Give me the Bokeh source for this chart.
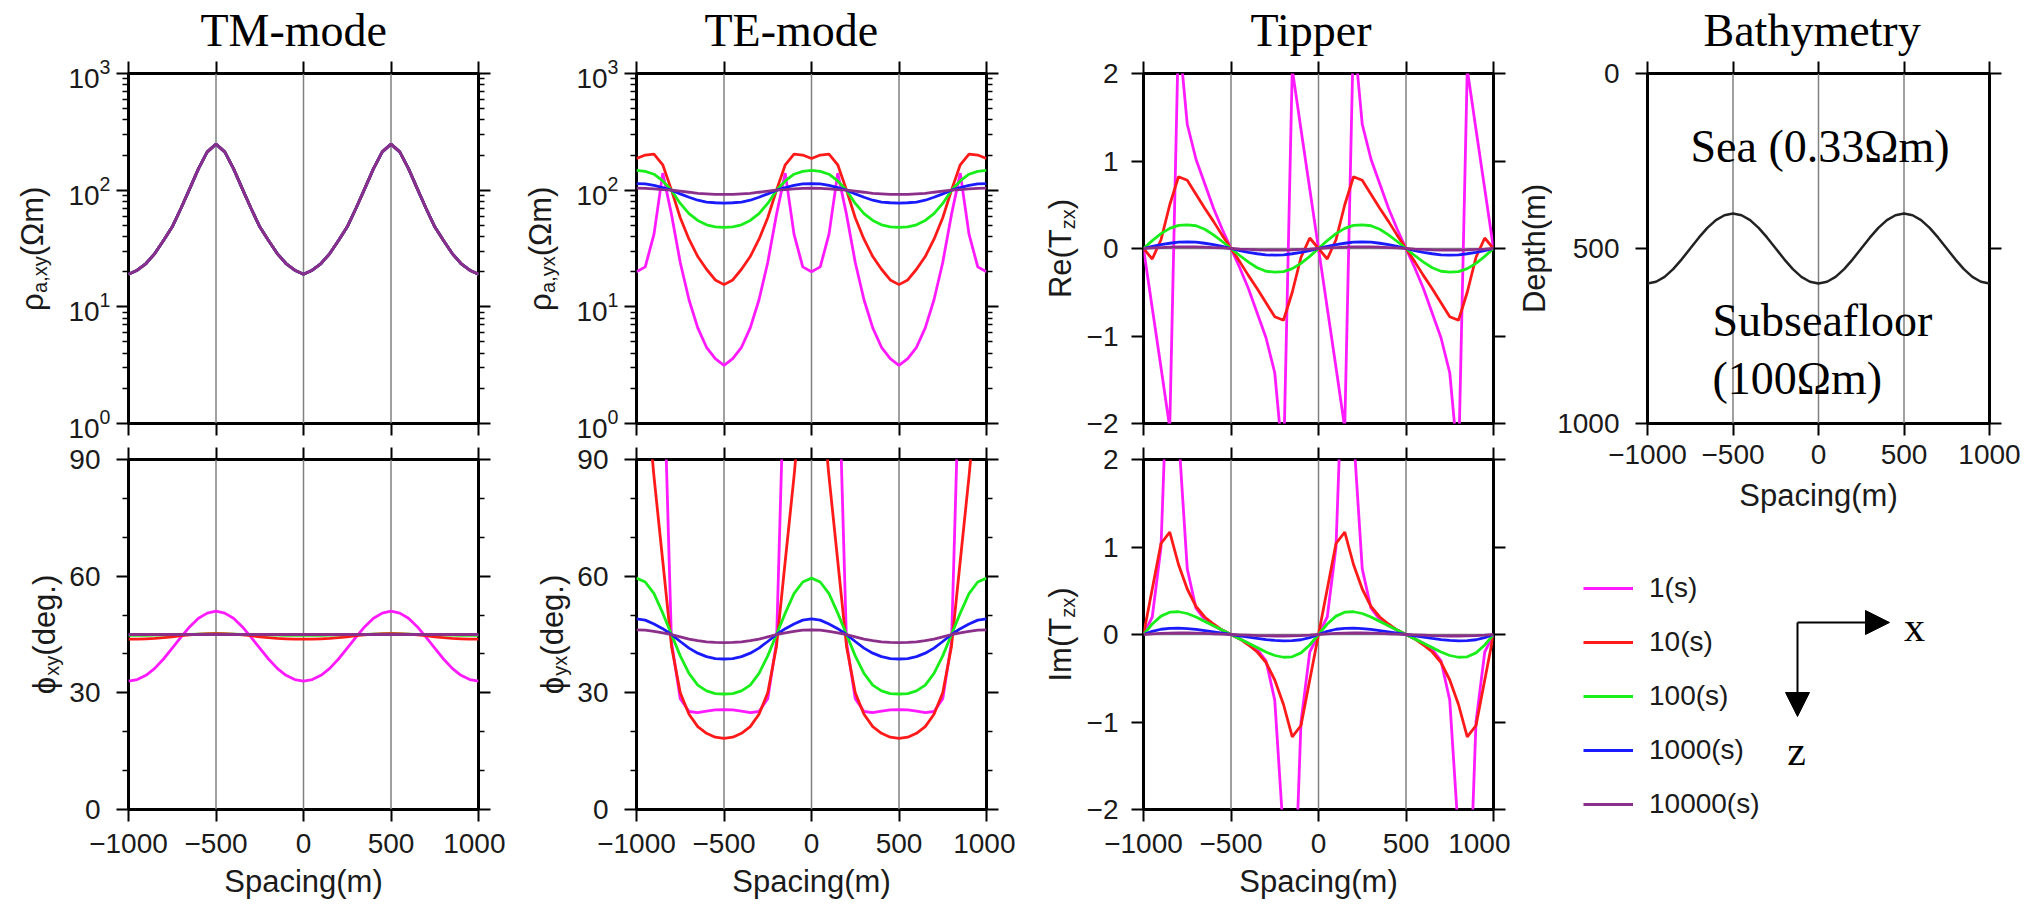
import math
from bokeh.plotting import figure
from bokeh.models import (FixedTicker, LinearAxis, LogAxis, Range1d, Span, Label,
                          Legend, LegendItem, Arrow, NormalHead)
from bokeh.layouts import row, column
from bokeh.embed import file_html
from bokeh.resources import INLINE

SANS = "Liberation Sans"
SERIF = "Liberation Serif"
TXT = "#1a1a1a"
BASE_SHIFT = 0.27   # empirical offset of the rendered alphabetic baseline (in em)

# ---------------- data ----------------
spacing = [-1000, -950, -900, -850, -800, -750, -700, -650, -600, -550, -500, -450, -400, -350,
           -300, -250, -200, -150, -100, -50, 0, 50, 100, 150, 200, 250, 300, 350, 400, 450,
           500, 550, 600, 650, 700, 750, 800, 850, 900, 950, 1000]

period_labels = ["1(s)", "10(s)", "100(s)", "1000(s)", "10000(s)"]
period_colors = ["#ff1aff", "#ff1a1a", "#1aee1a", "#1a1aff", "#8b2f8b"]

# TM-mode apparent resistivity (all periods coincide)
tm_rho = [19.0, 20.6, 23.5, 28.6, 37.0, 48.5, 70.0, 103.0, 153.0, 213.0, 248.0, 213.0, 153.0, 103.0,
          70.0, 48.5, 37.0, 28.6, 23.5, 20.6, 19.0, 20.6, 23.5, 28.6, 37.0, 48.5, 70.0, 103.0, 153.0,
          213.0, 248.0, 213.0, 153.0, 103.0, 70.0, 48.5, 37.0, 28.6, 23.5, 20.6, 19.0]

tm_phase_1s = [33.0, 33.4, 34.5, 36.3, 38.7, 41.5, 44.3, 47.0, 49.2, 50.5, 51.0, 50.5, 49.2, 47.0, 44.3,
               41.5, 38.7, 36.3, 34.5, 33.4, 33.0, 33.4, 34.5, 36.3, 38.7, 41.5, 44.3, 47.0, 49.2, 50.5,
               51.0, 50.5, 49.2, 47.0, 44.3, 41.5, 38.7, 36.3, 34.5, 33.4, 33.0]
tm_phase_10s = [43.8, 43.8, 43.9, 44.0, 44.2, 44.4, 44.7, 44.9, 45.1, 45.2, 45.3, 45.2, 45.1, 44.9, 44.7,
                44.4, 44.2, 44.0, 43.9, 43.8, 43.8, 43.8, 43.9, 44.0, 44.2, 44.4, 44.7, 44.9, 45.1, 45.2,
                45.3, 45.2, 45.1, 44.9, 44.7, 44.4, 44.2, 44.0, 43.9, 43.8, 43.8]
tm_phase_100s = [44.8, 44.8, 44.8, 44.85, 44.9, 44.95, 45.0, 45.05, 45.1, 45.1, 45.1, 45.1, 45.1, 45.05,
                 45.0, 44.95, 44.9, 44.85, 44.8, 44.8, 44.8, 44.8, 44.8, 44.85, 44.9, 44.95, 45.0, 45.05,
                 45.1, 45.1, 45.1, 45.1, 45.1, 45.05, 45.0, 44.95, 44.9, 44.85, 44.8, 44.8, 44.8]
tm_phase_1000s = [44.95, 44.95, 44.96, 44.97, 44.98, 45.0, 45.01, 45.02, 45.03, 45.04, 45.04, 45.04, 45.03,
                  45.02, 45.01, 45.0, 44.98, 44.97, 44.96, 44.95, 44.95, 44.95, 44.96, 44.97, 44.98, 45.0,
                  45.01, 45.02, 45.03, 45.04, 45.04, 45.04, 45.03, 45.02, 45.01, 45.0, 44.98, 44.97, 44.96,
                  44.95, 44.95]
tm_phase_10000s = [45.0, 45.0, 45.0, 45.0, 45.0, 45.0, 45.0, 45.0, 45.0, 45.0, 45.0, 45.0, 45.0, 45.0,
                   45.0, 45.0, 45.0, 45.0, 45.0, 45.0, 45.0, 45.0, 45.0, 45.0, 45.0, 45.0, 45.0, 45.0,
                   45.0, 45.0, 45.0, 45.0, 45.0, 45.0, 45.0, 45.0, 45.0, 45.0, 45.0, 45.0, 45.0]

te_rho_1s = [20.0, 22.0, 42.0, 140.0, 62.0, 24.0, 11.5, 6.6, 4.5, 3.6, 3.15, 3.6, 4.5, 6.6, 11.5, 24.0,
             62.0, 140.0, 42.0, 22.0, 20.0, 22.0, 42.0, 140.0, 62.0, 24.0, 11.5, 6.6, 4.5, 3.6, 3.15,
             3.6, 4.5, 6.6, 11.5, 24.0, 62.0, 140.0, 42.0, 22.0, 20.0]
te_rho_10s = [187, 200, 204, 165, 100, 58, 38, 27, 21, 17, 15.5, 17, 21, 27, 38, 58, 100, 165, 204, 200,
              187, 200, 204, 165, 100, 58, 38, 27, 21, 17, 15.5, 17, 21, 27, 38, 58, 100, 165, 204, 200, 187]
te_rho_100s = [148, 145, 137, 120, 100, 77, 63, 55, 50.5, 48.5, 48, 48.5, 50.5, 55, 63, 77, 100, 120, 137,
               145, 148, 145, 137, 120, 100, 77, 63, 55, 50.5, 48.5, 48, 48.5, 50.5, 55, 63, 77, 100, 120,
               137, 145, 148]
te_rho_1000s = [114, 113, 110, 105, 100, 93, 87, 82, 79, 78, 77.5, 78, 79, 82, 87, 93, 100, 105, 110, 113,
                114, 113, 110, 105, 100, 93, 87, 82, 79, 78, 77.5, 78, 79, 82, 87, 93, 100, 105, 110, 113, 114]
te_rho_10000s = [104, 103.5, 102.5, 101, 100, 98, 96, 94, 93, 92, 92, 92, 93, 94, 96, 98, 100, 101, 102.5,
                 103.5, 104, 103.5, 102.5, 101, 100, 98, 96, 94, 93, 92, 92, 92, 93, 94, 96, 98, 100, 101,
                 102.5, 103.5, 104]

te_phase_1s = [175, 170, 155, 122, 43, 28.5, 25.2, 24.9, 25.3, 25.6, 25.7, 25.6, 25.3, 24.9, 25.2, 28.5,
               43, 122, 155, 170, 175, 170, 155, 122, 43, 28.5, 25.2, 24.9, 25.3, 25.6, 25.7, 25.6, 25.3,
               24.9, 25.2, 28.5, 43, 122, 155, 170, 175]
te_phase_10s = [130, 110, 85.6, 63.9, 42, 30, 24.5, 21.3, 19.6, 18.6, 18.3, 18.6, 19.6, 21.3, 24.5, 30, 42,
                63.9, 85.6, 110, 130, 110, 85.6, 63.9, 42, 30, 24.5, 21.3, 19.6, 18.6, 18.3, 18.6, 19.6,
                21.3, 24.5, 30, 42, 63.9, 85.6, 110, 130]
te_phase_100s = [59.5, 58.5, 55.5, 50.5, 45, 39.5, 35, 32, 30.5, 29.8, 29.7, 29.8, 30.5, 32, 35, 39.5, 45,
                 50.5, 55.5, 58.5, 59.5, 58.5, 55.5, 50.5, 45, 39.5, 35, 32, 30.5, 29.8, 29.7, 29.8, 30.5,
                 32, 35, 39.5, 45, 50.5, 55.5, 58.5, 59.5]
te_phase_1000s = [49, 48.7, 47.7, 46.5, 45, 43.2, 41.5, 40.2, 39.3, 38.8, 38.7, 38.8, 39.3, 40.2, 41.5,
                  43.2, 45, 46.5, 47.7, 48.7, 49, 48.7, 47.7, 46.5, 45, 43.2, 41.5, 40.2, 39.3, 38.8, 38.7,
                  38.8, 39.3, 40.2, 41.5, 43.2, 45, 46.5, 47.7, 48.7, 49]
te_phase_10000s = [46.2, 46.1, 45.8, 45.4, 45, 44.4, 43.8, 43.4, 43.1, 42.95, 42.9, 42.95, 43.1, 43.4, 43.8,
                   44.4, 45, 45.4, 45.8, 46.1, 46.2, 46.1, 45.8, 45.4, 45, 44.4, 43.8, 43.4, 43.1, 42.95,
                   42.9, 42.95, 43.1, 43.4, 43.8, 44.4, 45, 45.4, 45.8, 46.1, 46.2]

re_tzx_1s = [0, -0.68, -1.36, -2.05, 2.5, 1.42, 1.02, 0.74, 0.46, 0.22, 0, -0.22, -0.46, -0.74, -1.02,
             -1.42, -2.5, 2.05, 1.36, 0.68, 0, -0.68, -1.36, -2.05, 2.5, 1.42, 1.02, 0.74, 0.46, 0.22, 0,
             -0.22, -0.46, -0.74, -1.02, -1.42, -2.5, 2.05, 1.36, 0.68, 0]
re_tzx_10s = [0, -0.12, 0.1, 0.5, 0.82, 0.78, 0.62, 0.46, 0.31, 0.15, 0, -0.15, -0.31, -0.46, -0.62,
              -0.78, -0.82, -0.5, -0.1, 0.12, 0, -0.12, 0.1, 0.5, 0.82, 0.78, 0.62, 0.46, 0.31, 0.15, 0,
              -0.15, -0.31, -0.46, -0.62, -0.78, -0.82, -0.5, -0.1, 0.12, 0]
re_tzx_100s = [0, 0.09, 0.17, 0.23, 0.265, 0.27, 0.26, 0.22, 0.155, 0.08, 0, -0.08, -0.155, -0.22, -0.26,
               -0.27, -0.265, -0.23, -0.17, -0.09, 0, 0.09, 0.17, 0.23, 0.265, 0.27, 0.26, 0.22, 0.155,
               0.08, 0, -0.08, -0.155, -0.22, -0.26, -0.27, -0.265, -0.23, -0.17, -0.09, 0]
re_tzx_1000s = [0, 0.025, 0.045, 0.06, 0.072, 0.076, 0.072, 0.06, 0.045, 0.025, 0, -0.025, -0.045, -0.06,
                -0.072, -0.076, -0.072, -0.06, -0.045, -0.025, 0, 0.025, 0.045, 0.06, 0.072, 0.076, 0.072,
                0.06, 0.045, 0.025, 0, -0.025, -0.045, -0.06, -0.072, -0.076, -0.072, -0.06, -0.045,
                -0.025, 0]
re_tzx_10000s = [0, 0.006, 0.011, 0.015, 0.018, 0.019, 0.018, 0.015, 0.011, 0.006, 0, -0.006, -0.011,
                 -0.015, -0.018, -0.019, -0.018, -0.015, -0.011, -0.006, 0, 0.006, 0.011, 0.015, 0.018,
                 0.019, 0.018, 0.015, 0.011, 0.006, 0, -0.006, -0.011, -0.015, -0.018, -0.019, -0.018,
                 -0.015, -0.011, -0.006, 0]

im_tzx_1s = [0, 0.2, 1.0, 3.8, 2.3, 0.75, 0.3, 0.17, 0.1, 0.05, 0, -0.05, -0.1, -0.17, -0.3, -0.75, -2.3,
             -3.8, -1.0, -0.2, 0, 0.2, 1.0, 3.8, 2.3, 0.75, 0.3, 0.17, 0.1, 0.05, 0, -0.05, -0.1, -0.17,
             -0.3, -0.75, -2.3, -3.8, -1.0, -0.2, 0]
im_tzx_10s = [0, 0.52, 1.04, 1.17, 0.8, 0.52, 0.32, 0.2, 0.12, 0.05, 0, -0.05, -0.12, -0.2, -0.32, -0.52,
              -0.8, -1.17, -1.04, -0.52, 0, 0.52, 1.04, 1.17, 0.8, 0.52, 0.32, 0.2, 0.12, 0.05, 0, -0.05,
              -0.12, -0.2, -0.32, -0.52, -0.8, -1.17, -1.04, -0.52, 0]
im_tzx_100s = [0, 0.12, 0.21, 0.255, 0.26, 0.24, 0.2, 0.15, 0.1, 0.05, 0, -0.05, -0.1, -0.15, -0.2, -0.24,
               -0.26, -0.255, -0.21, -0.12, 0, 0.12, 0.21, 0.255, 0.26, 0.24, 0.2, 0.15, 0.1, 0.05, 0,
               -0.05, -0.1, -0.15, -0.2, -0.24, -0.26, -0.255, -0.21, -0.12, 0]
im_tzx_1000s = [0, 0.035, 0.06, 0.07, 0.072, 0.068, 0.058, 0.045, 0.03, 0.015, 0, -0.015, -0.03, -0.045,
                -0.058, -0.068, -0.072, -0.07, -0.06, -0.035, 0, 0.035, 0.06, 0.07, 0.072, 0.068, 0.058,
                0.045, 0.03, 0.015, 0, -0.015, -0.03, -0.045, -0.058, -0.068, -0.072, -0.07, -0.06,
                -0.035, 0]
im_tzx_10000s = [0, 0.008, 0.013, 0.016, 0.017, 0.017, 0.015, 0.012, 0.008, 0.004, 0, -0.004, -0.008,
                 -0.012, -0.015, -0.017, -0.017, -0.016, -0.013, -0.008, 0, 0.008, 0.013, 0.016, 0.017,
                 0.017, 0.015, 0.012, 0.008, 0.004, 0, -0.004, -0.008, -0.012, -0.015, -0.017, -0.017,
                 -0.016, -0.013, -0.008, 0]

depth_m = [600, 595, 581, 559, 531, 500, 469, 441, 419, 405, 400, 405, 419, 441, 469, 500, 531, 559, 581,
           595, 600, 595, 581, 559, 531, 500, 469, 441, 419, 405, 400, 405, 419, 441, 469, 500, 531, 559,
           581, 595, 600]

x_ticks = [-1000, -500, 0, 500, 1000]
x_tick_text = {-1000: "\u22121000", -500: "\u2212500", 0: "0", 500: "500", 1000: "1000"}
rho_ticks = [1, 10, 100, 1000]
rho_minor = [2, 3, 4, 5, 6, 7, 8, 9, 20, 30, 40, 50, 60, 70, 80, 90, 200, 300, 400, 500, 600, 700, 800, 900]
phase_ticks = [0, 30, 60, 90]
phase_minor = [10, 20, 40, 50, 70, 80]
tip_ticks = [-2, -1, 0, 1, 2]
tip_tick_text = {-2: "\u22122", -1: "\u22121", 0: "0", 1: "1", 2: "2"}
depth_ticks = [0, 500, 1000]
grid_x = [-500, 0, 500]

# ---------------- helpers ----------------
CW = {"ρ": 0.58, "ϕ": 0.60, "a": 0.556, ",": 0.278, "x": 0.5, "y": 0.5, "(": 0.333, ")": 0.333,
      "Ω": 0.768, "m": 0.833, "d": 0.556, "e": 0.556, "g": 0.556, ".": 0.278, "R": 0.722,
      "T": 0.611, "z": 0.5, "I": 0.278, "D": 0.722, "p": 0.556, "t": 0.278, "h": 0.556}


def tw(s, size):
    return sum(CW.get(c, 0.556) for c in s) * size


def no_align(f):
    try:
        f.frame_align = False
    except Exception:
        pass


def style_axis(ax, ticks, minor=(), labels=None, standoff=10):
    ax.ticker = FixedTicker(ticks=list(ticks), minor_ticks=list(minor))
    ax.axis_line_color = None
    ax.major_tick_in = 0
    ax.major_tick_out = 12
    ax.minor_tick_in = 0
    ax.minor_tick_out = 6
    ax.major_tick_line_color = "black"
    ax.major_tick_line_width = 2
    ax.minor_tick_line_color = "black"
    ax.minor_tick_line_width = 1.5
    ax.major_label_text_font = SANS
    ax.major_label_text_color = TXT
    if labels is None:
        ax.major_label_overrides = {t: "" for t in ticks}
        ax.major_label_text_font_size = "1px"
        ax.major_label_standoff = 0
    else:
        if labels:
            ax.major_label_overrides = labels
        ax.major_label_text_font_size = "28px"
        ax.major_label_standoff = standoff


def make_panel(width, height, bl, br, bt, bb, y_range, log=False):
    p = figure(width=width, height=height, x_range=Range1d(-1000, 1000), y_range=y_range,
               y_axis_type="log" if log else "linear", output_backend="svg",
               toolbar_location=None, tools="",
               min_border_left=bl, min_border_right=br, min_border_top=bt, min_border_bottom=bb)
    no_align(p)
    p.xgrid.visible = False
    p.ygrid.visible = False
    p.outline_line_color = "black"
    p.outline_line_width = 3
    p.background_fill_color = "white"
    p.border_fill_color = "white"
    for gx in grid_x:
        p.add_layout(Span(location=gx, dimension="height", line_color="#808080",
                          line_width=1.5, level="underlay"))
    return p


def add_axes(p, xlab, yticks, yminor, ylab, ystand, log=False, xstand=12, als=8):
    bottom = p.xaxis[0]
    style_axis(bottom, x_ticks, labels=(x_tick_text if xlab else None), standoff=xstand)
    if xlab:
        bottom.axis_label = "Spacing(m)"
        bottom.axis_label_text_font = SANS
        bottom.axis_label_text_font_size = "31px"
        bottom.axis_label_text_font_style = "normal"
        bottom.axis_label_text_color = TXT
        bottom.axis_label_standoff = als
    style_axis(p.yaxis[0], yticks, yminor, labels=ylab, standoff=ystand)
    top = LinearAxis()
    p.add_layout(top, "above")
    style_axis(top, x_ticks)
    right = LogAxis() if log else LinearAxis()
    p.add_layout(right, "right")
    style_axis(right, yticks, yminor)


def set_title(p, text, offset):
    p.title.text = text
    p.title.text_font = SERIF
    p.title.text_font_size = "46px"
    p.title.text_font_style = "normal"
    p.title.text_color = "black"
    p.title.align = "left"
    p.title.offset = offset
    p.title.standoff = 7
    p.title.vertical_align = "top"


def text_fig(width, height):
    f = figure(width=width, height=height, x_range=Range1d(0, width), y_range=Range1d(0, height),
               x_axis_type=None, y_axis_type=None, output_backend="svg", toolbar_location=None,
               tools="", min_border_left=0, min_border_right=0, min_border_top=0, min_border_bottom=0)
    no_align(f)
    f.outline_line_color = None
    f.background_fill_color = "white"
    f.border_fill_color = "white"
    return f


def ylabel(f, parts, bx, cy, main=31, sub=20, drop=5):
    # bx: wanted baseline position from the left of the text figure; cy: centre from the bottom
    total = sum(tw(t, sub if s else main) for t, s in parts)
    pos = cy - total / 2
    for t, s in parts:
        size = sub if s else main
        x = bx + (drop if s else 0) - BASE_SHIFT * size
        f.add_layout(Label(x=x, y=pos, x_units="screen", y_units="screen",
                           text=t, angle=math.pi / 2, text_align="left", text_baseline="alphabetic",
                           text_font=SANS, text_font_size=f"{size}px", text_color=TXT))
        pos += tw(t, size)


def serif_label(f, x, y, text, size, align="left", units="screen"):
    f.add_layout(Label(x=x, y=y + BASE_SHIFT * size, x_units=units, y_units=units, text=text,
                       text_align=align, text_baseline="alphabetic", text_font=SERIF,
                       text_font_size=f"{size}px", text_color="black"))


def draw_series(p, series):
    for ys, c in zip(series, period_colors):
        p.line(spacing, ys, line_color=c, line_width=2.8)


# ---------------- geometry ----------------
H = 912
TOP_H = 443
BOT_H = H - TOP_H
TOP_BB = TOP_H - 73 - 350          # border below the upper frames
BOT_BT = 459 - TOP_H               # border above the lower frames
BOT_BB = BOT_H - BOT_BT - 350

# Column 1 : TM-mode
L1 = text_fig(64, H)
ylabel(L1, [("ρ", 0), ("a,xy", 1), ("(Ωm)", 0)], 40, H - 248)
ylabel(L1, [("ϕ", 0), ("xy", 1), ("(deg.)", 0)], 52, H - 634)

bl, br = 64, 27
w = bl + 350 + br
f_tm_rho = make_panel(w, TOP_H, bl, br, 73, TOP_BB, Range1d(1, 1000), log=True)
add_axes(f_tm_rho, False, rho_ticks, rho_minor, {}, 6, log=True)
draw_series(f_tm_rho, [tm_rho, tm_rho, tm_rho, tm_rho, tm_rho])
set_title(f_tm_rho, "TM-mode", 72)

f_tm_ph = make_panel(w, BOT_H, bl, br, BOT_BT, BOT_BB, Range1d(0, 90))
add_axes(f_tm_ph, True, phase_ticks, phase_minor, {}, 16)
draw_series(f_tm_ph, [tm_phase_1s, tm_phase_10s, tm_phase_100s, tm_phase_1000s, tm_phase_10000s])

# Column 2 : TE-mode
L2 = text_fig(67, H)
ylabel(L2, [("ρ", 0), ("a,yx", 1), ("(Ωm)", 0)], 43, H - 248)
ylabel(L2, [("ϕ", 0), ("yx", 1), ("(deg.)", 0)], 55, H - 634)

bl, br = 64, 29
w = bl + 350 + br
f_te_rho = make_panel(w, TOP_H, bl, br, 73, TOP_BB, Range1d(1, 1000), log=True)
add_axes(f_te_rho, False, rho_ticks, rho_minor, {}, 6, log=True)
draw_series(f_te_rho, [te_rho_1s, te_rho_10s, te_rho_100s, te_rho_1000s, te_rho_10000s])
set_title(f_te_rho, "TE-mode", 68)

f_te_ph = make_panel(w, BOT_H, bl, br, BOT_BT, BOT_BB, Range1d(0, 90))
add_axes(f_te_ph, True, phase_ticks, phase_minor, {}, 16)
draw_series(f_te_ph, [te_phase_1s, te_phase_10s, te_phase_100s, te_phase_1000s, te_phase_10000s])

# Column 3 : Tipper
L3 = text_fig(65, H)
ylabel(L3, [("Re(T", 0), ("zx", 1), (")", 0)], 53, H - 248)
ylabel(L3, [("Im(T", 0), ("zx", 1), (")", 0)], 53, H - 634)

bl, br = 63, 17
w = bl + 350 + br
f_re = make_panel(w, TOP_H, bl, br, 73, TOP_BB, Range1d(-2, 2))
f_re.add_layout(Span(location=0, dimension="width", line_color="#808080", line_width=1.5, level="underlay"))
add_axes(f_re, False, tip_ticks, (), tip_tick_text, 13)
draw_series(f_re, [re_tzx_1s, re_tzx_10s, re_tzx_100s, re_tzx_1000s, re_tzx_10000s])
set_title(f_re, "Tipper", 107)

f_im = make_panel(w, BOT_H, bl, br, BOT_BT, BOT_BB, Range1d(-2, 2))
f_im.add_layout(Span(location=0, dimension="width", line_color="#808080", line_width=1.5, level="underlay"))
add_axes(f_im, True, tip_ticks, (), tip_tick_text, 13)
draw_series(f_im, [im_tzx_1s, im_tzx_10s, im_tzx_100s, im_tzx_1000s, im_tzx_10000s])

# Column 4 : Bathymetry + legend
L4 = text_fig(42, H)
ylabel(L4, [("Depth(m)", 0)], 32, H - 248)

bl, br = 95, 41
w4 = bl + 342 + br
BAT_H = 530
f_bat = make_panel(w4, BAT_H, bl, br, 73, BAT_H - 73 - 350, Range1d(1000, 0))
add_axes(f_bat, True, depth_ticks, (), {}, 16, xstand=9, als=11)
f_bat.line(spacing, depth_m, line_color="#222222", line_width=2.5)
set_title(f_bat, "Bathymetry", 56)
serif_label(f_bat, 43, 265, "Sea (0.33Ωm)", 46)
serif_label(f_bat, 65, 91, "Subseafloor", 46)
serif_label(f_bat, 65, 33, "(100Ωm)", 46)

LEG_H = H - BAT_H
f_leg = text_fig(w4, LEG_H)
items = []
for lab, c in zip(period_labels, period_colors):
    r = f_leg.line(x=[-60, -40], y=[-60, -60], line_color=c, line_width=3)
    items.append(LegendItem(label=lab, renderers=[r]))
leg = Legend(items=items, location=(31, LEG_H - 294), orientation="vertical",
             border_line_color=None, background_fill_alpha=0, padding=0, margin=0, spacing=14,
             glyph_width=50, glyph_height=40, label_height=40, label_standoff=16,
             label_text_font=SANS, label_text_font_size="28px", label_text_color=TXT)
f_leg.add_layout(leg, "center")

cx, cy = 245, LEG_H - 92
f_leg.add_layout(Arrow(end=NormalHead(size=24, fill_color="black", line_color="black"),
                       x_start=cx, y_start=cy, x_end=cx + 92, y_end=cy,
                       line_color="black", line_width=2))
f_leg.add_layout(Arrow(end=NormalHead(size=24, fill_color="black", line_color="black"),
                       x_start=cx, y_start=cy, x_end=cx, y_end=cy - 94,
                       line_color="black", line_width=2))
serif_label(f_leg, cx + 117, cy - 16, "x", 42, align="center", units="data")
serif_label(f_leg, cx - 1, cy - 140, "z", 42, align="center", units="data")

layout = row(L1, column(f_tm_rho, f_tm_ph), L2, column(f_te_rho, f_te_ph),
             L3, column(f_re, f_im), L4, column(f_bat, f_leg))

open("out.html", "w").write(file_html(layout, INLINE, "MT responses"))
